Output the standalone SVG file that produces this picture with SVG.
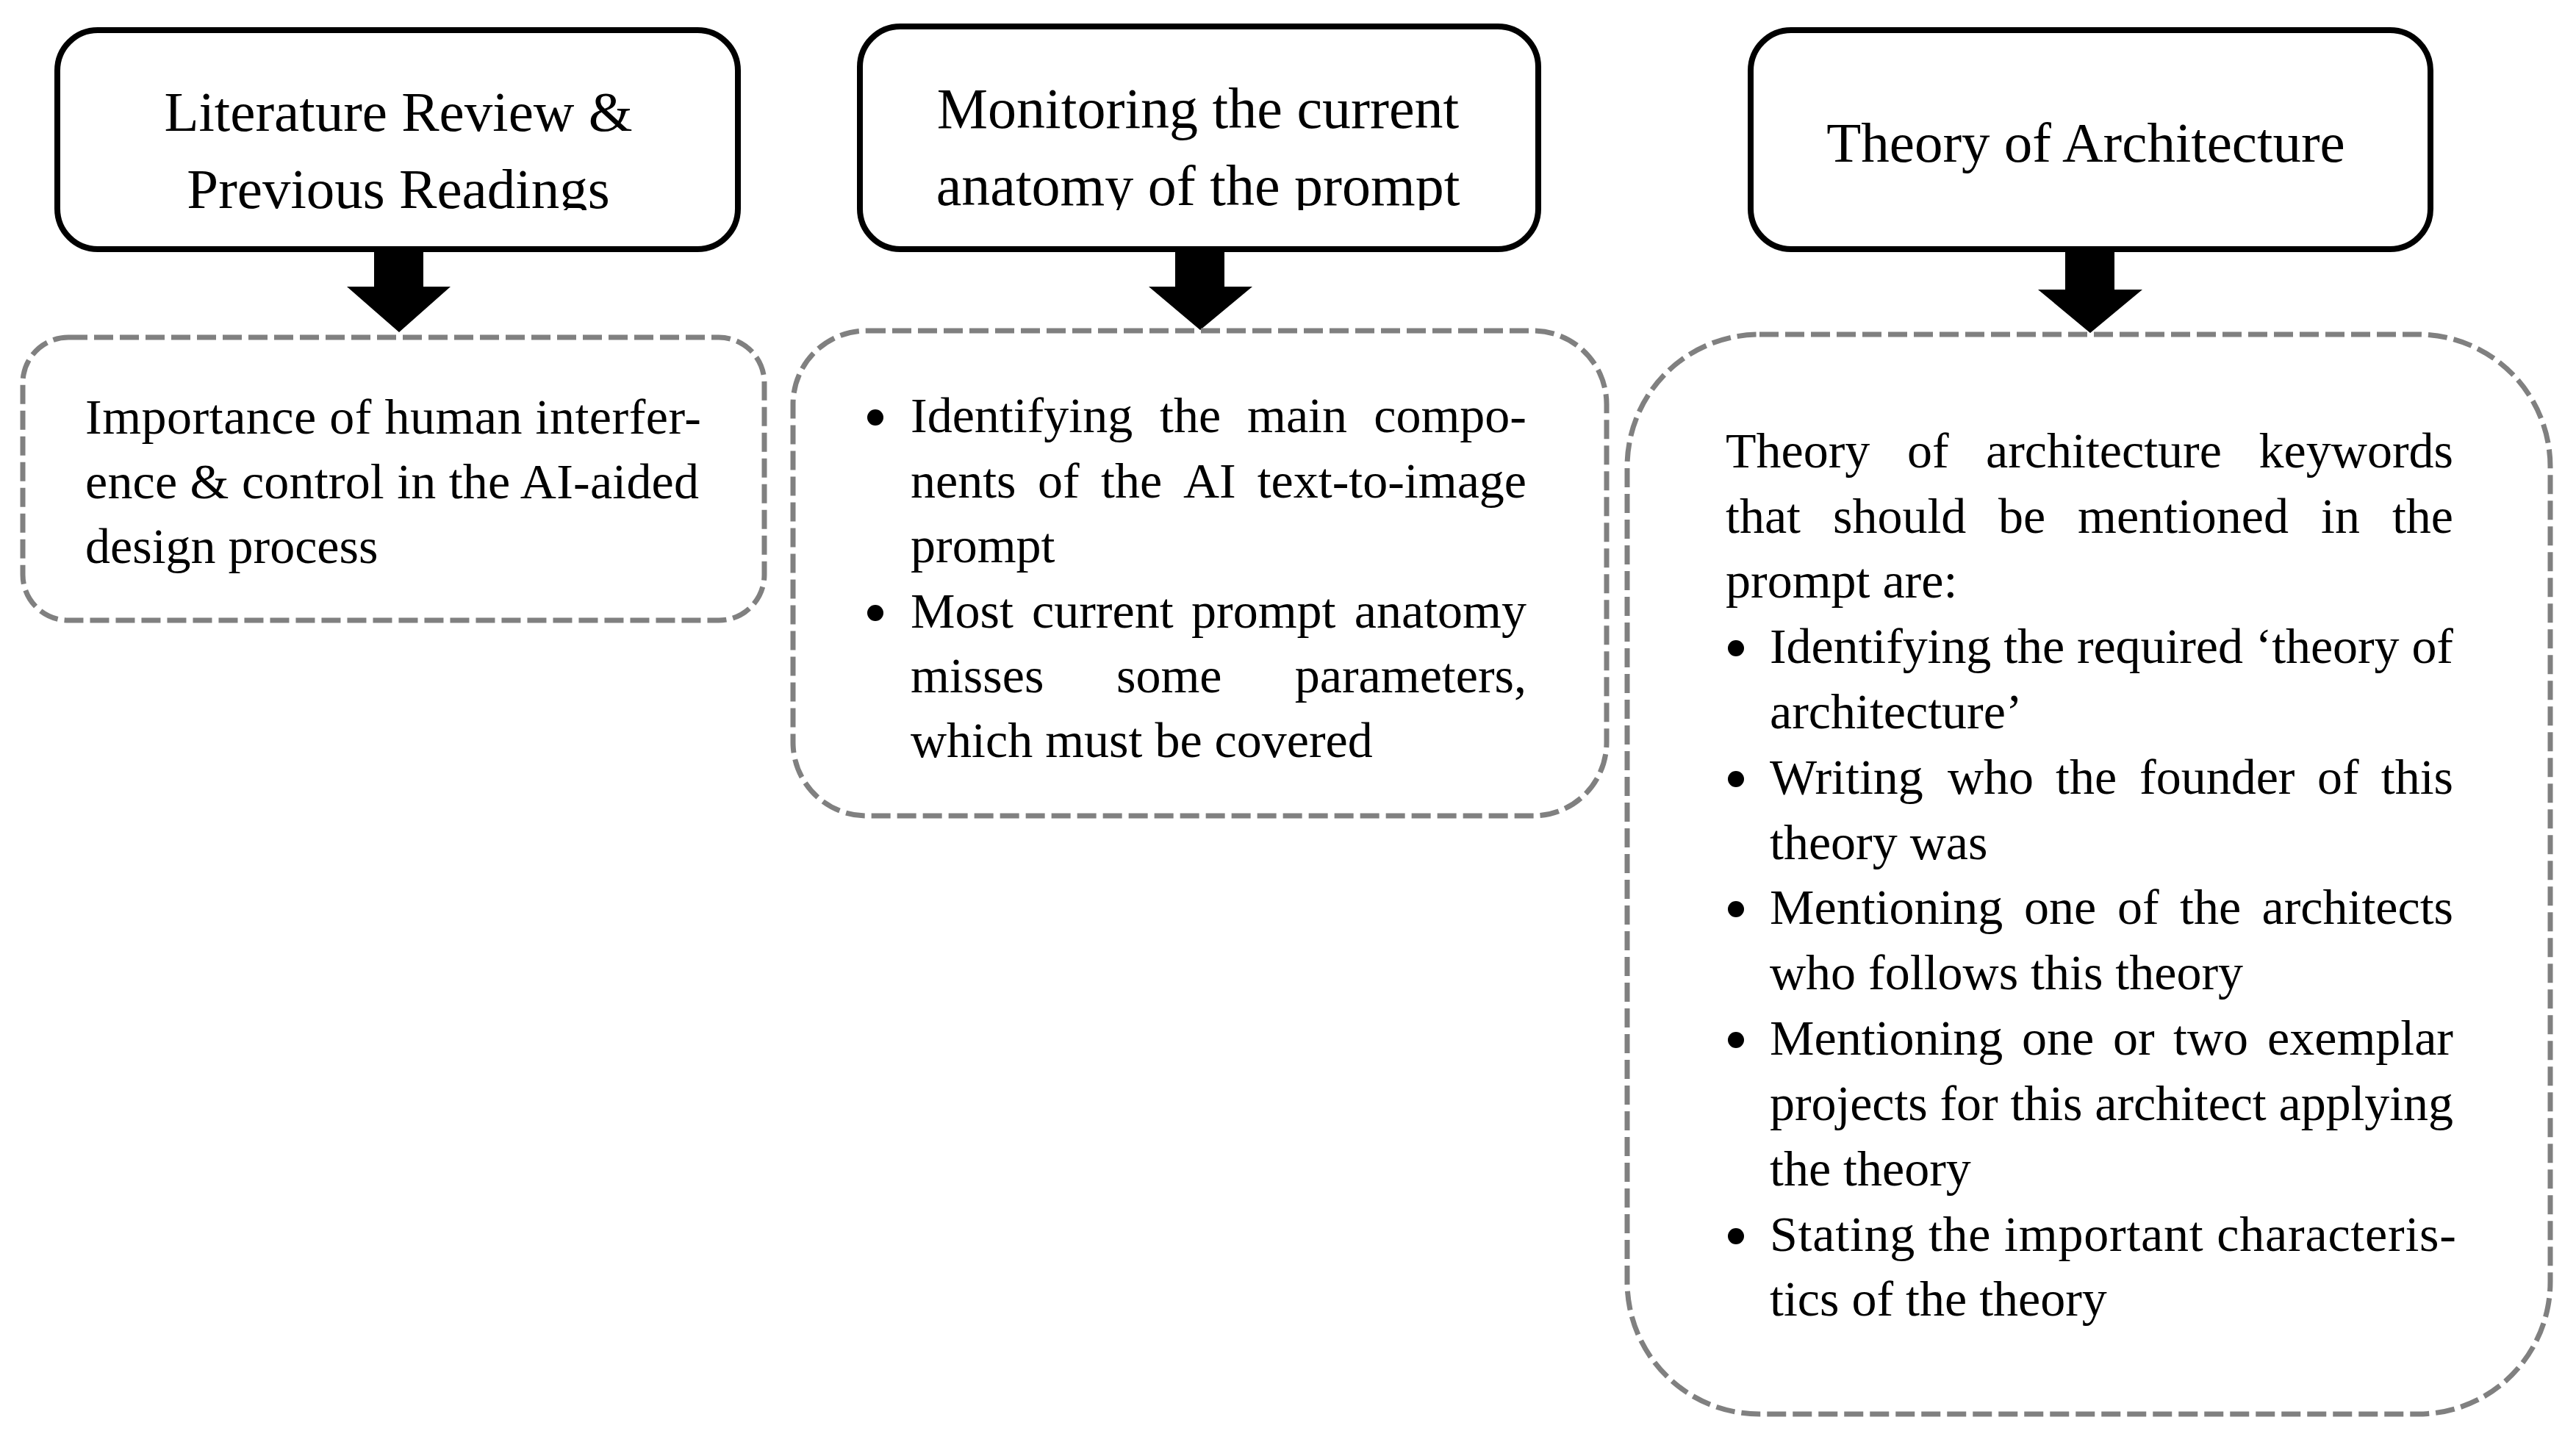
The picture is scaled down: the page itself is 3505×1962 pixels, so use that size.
<svg xmlns="http://www.w3.org/2000/svg" width="3505" height="1962" viewBox="0 0 3505 1962">
<style>
.solid{fill:#fff;stroke:#000;stroke-width:8}
.dash{fill:#fff;stroke:#808080;stroke-width:7;stroke-dasharray:26 9}
.title{font-family:"Liberation Serif","Times New Roman",serif;font-size:77px;fill:#000;text-anchor:middle}
.body{font-family:"Liberation Serif","Times New Roman",serif;font-size:68px;fill:#000}
.e{text-anchor:end}
.bul{fill:#000}
.arrow{fill:#000}
</style>
<defs>
<clipPath id="clipTitle"><rect x="0" y="0" width="3505" height="286"/></clipPath>
</defs>
<rect width="3505" height="1962" fill="#fff"/>

<g id="connectors">
<polygon class="arrow" points="509,335 576,335 576,390 613,390 543,452 472,390 509,390"/>
<polygon class="arrow" points="1599,335 1666,335 1666,390 1704,390 1633,449 1563,390 1599,390"/>
<polygon class="arrow" points="2810,335 2877,335 2877,394 2915,394 2844,453 2773,394 2810,394"/>
</g>

<g id="node-literature">
<rect class="solid" x="78" y="41" width="926" height="298" rx="55"/>
<g clip-path="url(#clipTitle)">
<text class="title" x="542" y="178">Literature Review &amp;</text>
<text class="title" x="542" y="283">Previous Readings</text>
</g>
</g>

<g id="node-monitoring">
<rect class="solid" x="1170" y="36" width="923" height="303" rx="55"/>
<g clip-path="url(#clipTitle)">
<text class="title" x="1630" y="174" style="font-size:78px">Monitoring the current</text>
<text class="title" x="1630" y="279" style="font-size:78px">anatomy of the prompt</text>
</g>
</g>

<g id="node-theory">
<rect class="solid" x="2382" y="41" width="925" height="298" rx="55"/>
<text class="title" x="2838" y="220">Theory of Architecture</text>
</g>

<g id="node-literature-detail">
<rect class="dash" x="31" y="459" width="1009" height="385" rx="62"/>
<text class="body" x="116" y="590" textLength="838" lengthAdjust="spacing">Importance of human interfer-</text>
<text class="body" x="116" y="678" textLength="835" lengthAdjust="spacing">ence &amp; control in the AI-aided</text>
<text class="body" x="116" y="766">design process</text>
</g>

<g id="node-monitoring-detail">
<rect class="dash" x="1079" y="450" width="1107" height="660" rx="100"/>
<circle class="bul" cx="1191" cy="568" r="11"/>
<text class="body" y="588"><tspan x="1239">Identifying</tspan><tspan x="1578">the</tspan><tspan x="1697">main</tspan></text>
<text class="body e" x="2077" y="588">compo-</text>
<text class="body" y="677"><tspan x="1239">nents</tspan><tspan x="1412">of</tspan><tspan x="1498">the</tspan><tspan x="1610">AI</tspan></text>
<text class="body e" x="2077" y="677">text-to-image</text>
<text class="body" x="1239" y="765">prompt</text>
<circle class="bul" cx="1191" cy="834" r="11"/>
<text class="body" y="854"><tspan x="1239">Most</tspan><tspan x="1404">current</tspan><tspan x="1621">prompt</tspan></text>
<text class="body e" x="2077" y="854">anatomy</text>
<text class="body" y="942"><tspan x="1239">misses</tspan><tspan x="1519">some</tspan></text>
<text class="body e" x="2077" y="942">parameters,</text>
<text class="body" x="1239" y="1030">which must be covered</text>
</g>

<g id="node-theory-detail">
<rect class="dash" x="2214" y="455" width="1256" height="1469" rx="180"/>
<text class="body" y="636"><tspan x="2348">Theory</tspan><tspan x="2595">of</tspan><tspan x="2702">architecture</tspan></text>
<text class="body e" x="3338" y="636">keywords</text>
<text class="body" y="725"><tspan x="2348">that</tspan><tspan x="2494">should</tspan><tspan x="2719">be</tspan><tspan x="2827">mentioned</tspan><tspan x="3158">in</tspan></text>
<text class="body e" x="3338" y="725">the</text>
<text class="body" x="2348" y="813">prompt are:</text>
<circle class="bul" cx="2362" cy="882" r="11"/>
<text class="body" x="2408" y="902" textLength="930" lengthAdjust="spacing">Identifying the required ‘theory of</text>
<text class="body" x="2408" y="991">architecture’</text>
<circle class="bul" cx="2362" cy="1060" r="11"/>
<text class="body" y="1080"><tspan x="2408">Writing</tspan><tspan x="2650">who</tspan><tspan x="2797">the</tspan><tspan x="2911">founder</tspan><tspan x="3153">of</tspan></text>
<text class="body e" x="3338" y="1080">this</text>
<text class="body" x="2408" y="1169">theory was</text>
<circle class="bul" cx="2362" cy="1237" r="11"/>
<text class="body" y="1257"><tspan x="2408">Mentioning</tspan><tspan x="2754">one</tspan><tspan x="2881">of</tspan><tspan x="2966">the</tspan></text>
<text class="body e" x="3338" y="1257">architects</text>
<text class="body" x="2408" y="1346">who follows this theory</text>
<circle class="bul" cx="2362" cy="1415" r="11"/>
<text class="body" y="1435"><tspan x="2408">Mentioning</tspan><tspan x="2751">one</tspan><tspan x="2875">or</tspan><tspan x="2957">two</tspan></text>
<text class="body e" x="3338" y="1435">exemplar</text>
<text class="body" x="2408" y="1524" textLength="930" lengthAdjust="spacing">projects for this architect applying</text>
<text class="body" x="2408" y="1613">the theory</text>
<circle class="bul" cx="2362" cy="1682" r="11"/>
<text class="body" x="2408" y="1702" textLength="934" lengthAdjust="spacing">Stating the important characteris-</text>
<text class="body" x="2408" y="1790">tics of the theory</text>
</g>
</svg>
